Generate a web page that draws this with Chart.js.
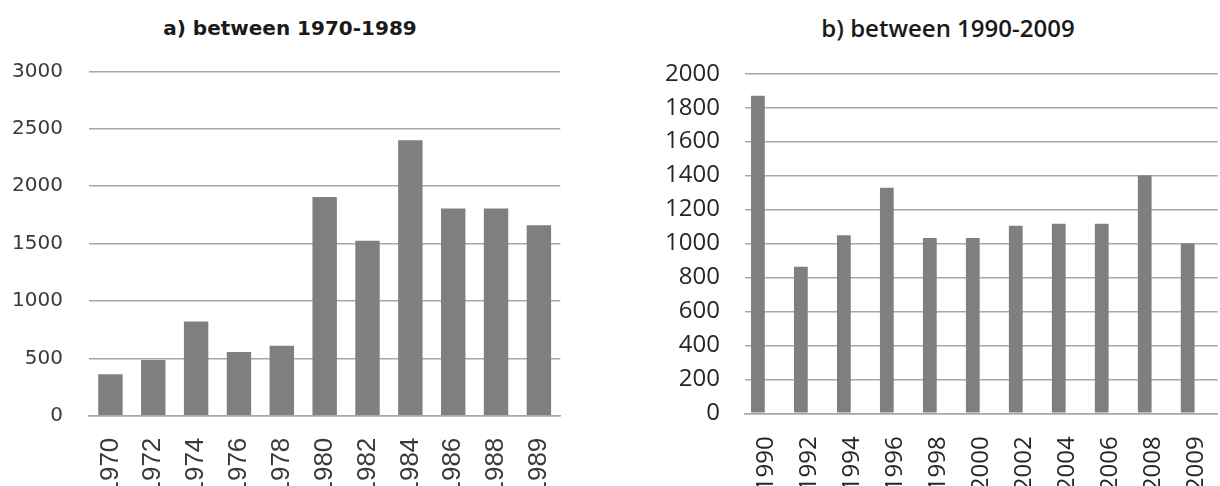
<!DOCTYPE html>
<html>
<head>
<meta charset="utf-8">
<script src="https://cdn.jsdelivr.net/npm/chart.js@4.4.0/dist/chart.umd.min.js"></script>
<style>
  html, body { margin: 0; padding: 0; background: #fff; overflow: hidden; width: 1220px; height: 486px; }
  .box { position: absolute; top: 0; height: 486px; overflow: hidden; }
  .title { position: absolute; white-space: nowrap; text-align: center; color: #1a1a1a; }
</style>
</head>
<body>
<div class="title" style="left:0;width:580px;top:18px;font:bold 20px 'DejaVu Sans';line-height:20px;">a) between 1970-1989</div>
<div class="title" style="left:640px;width:616px;top:16px;font:600 24px 'Open Sans';line-height:24px;">b) between 1990-2009</div>

<div class="box" style="left:0;width:565px;">
  <canvas id="chartA" width="593" height="486"></canvas>
</div>
<div class="box" style="left:640px;width:580px;">
  <canvas id="chartB" width="609" height="486"></canvas>
</div>

<script>
// a) 1970-1989
const yearsA = ['1970', '1972', '1974', '1976', '1978', '1980', '1982', '1984', '1986', '1988', '1989'];
const valuesA = [360, 485, 820, 555, 610, 1905, 1525, 2400, 1805, 1805, 1660];
const yMaxA = 3000;
const yStepA = 500;

// b) 1990-2009
const yearsB = ['1990', '1992', '1994', '1996', '1998', '2000', '2002', '2004', '2006', '2008', '2009'];
const valuesB = [1870, 863, 1048, 1328, 1032, 1032, 1105, 1116, 1116, 1400, 1000];
// second (empty) series of the original sheet, keeps the bars on the left of each slot
const emptyB = [null, null, null, null, null, null, null, null, null, null, null];
const yMaxB = 2000;
const yStepB = 200;

const barColor = '#7f7f7f';
const gridColor = '#a8a8a8';

// rótulos sem separador de milhar
const plainNumber = v => String(v);

// Gráfico a)
new Chart(document.getElementById('chartA').getContext('2d'), {
    type: 'bar',
    data: {
        labels: yearsA,
        datasets: [{
            data: valuesA,
            backgroundColor: barColor,
            barPercentage: 0.57,
            categoryPercentage: 1,
        }],
    },
    options: {
        responsive: false,
        animation: false,
        layout: { padding: { top: 71.3, left: 0, right: 20, bottom: 0 } },
        plugins: { legend: { display: false }, tooltip: { enabled: false } },
        scales: {
            x: {
                grid: { display: false, drawTicks: false },
                border: { display: true, color: gridColor, width: 1.5 },
                ticks: {
                    minRotation: 90, maxRotation: 90, autoSkip: false, padding: 22,
                    color: '#3a3a3a', font: { family: 'Liberation Sans', size: 26 },
                },
                afterFit: s => { s.height = 486 - 415.7; },
            },
            y: {
                min: 0, max: yMaxA,
                ticks: {
                    stepSize: yStepA, padding: 26, color: '#3a3a3a',
                    font: { family: 'DejaVu Sans', size: 20 }, callback: plainNumber,
                },
                grid: { color: gridColor, lineWidth: 1.5, drawTicks: false },
                border: { display: false },
                afterFit: s => { s.width = 89; },
            },
        },
    },
});

// Gráfico b)
new Chart(document.getElementById('chartB').getContext('2d'), {
    type: 'bar',
    data: {
        labels: yearsB,
        datasets: [{
            data: valuesB,
            backgroundColor: barColor,
            barPercentage: 0.8,
            categoryPercentage: 0.8,
        }, {
            data: emptyB,
            backgroundColor: barColor,
            barPercentage: 0.8,
            categoryPercentage: 0.8,
        }],
    },
    options: {
        responsive: false,
        animation: false,
        layout: { padding: { top: 73.7, left: 0, right: 20, bottom: 0 } },
        plugins: { legend: { display: false }, tooltip: { enabled: false } },
        scales: {
            x: {
                grid: { display: false, drawTicks: false },
                border: { display: true, color: gridColor, width: 1.5 },
                ticks: {
                    minRotation: 90, maxRotation: 90, autoSkip: false, padding: 23,
                    color: '#262626', font: { family: 'Open Sans', size: 24 },
                },
                afterFit: s => { s.height = 486 - 413.3; },
            },
            y: {
                min: 0, max: yMaxB,
                ticks: {
                    stepSize: yStepB, padding: 25, color: '#262626',
                    font: { family: 'Open Sans', size: 24 }, callback: plainNumber,
                },
                grid: { color: gridColor, lineWidth: 1.5, drawTicks: false },
                border: { display: false },
                afterFit: s => { s.width = 105; },
            },
        },
    },
});
</script>
</body>
</html>
